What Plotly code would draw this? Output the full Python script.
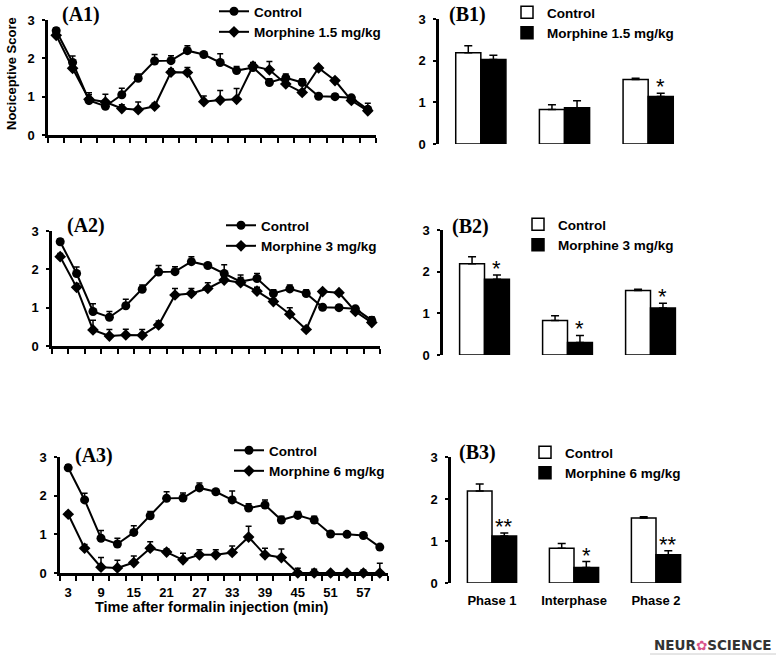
import plotly.graph_objects as go

W, H = 778, 662
SANS = "Liberation Sans"
SERIF = "Liberation Serif"

# ---- time course data (A panels) ----
time_min = [3, 6, 9, 12, 15, 18, 21, 24, 27, 30, 33, 36, 39, 42, 45, 48, 51, 54, 57, 60]
tick_min = [3, 9, 15, 21, 27, 33, 39, 45, 51, 57]

control_line = [2.72, 1.89, 0.90, 0.75, 1.05, 1.48, 1.93, 1.94, 2.20, 2.10,
                1.89, 1.68, 1.76, 1.37, 1.49, 1.37, 1.01, 1.00, 0.97, 0.67]
control_line_err = [0.08, 0.17, 0.20, 0.15, 0.17, 0.11, 0.17, 0.13, 0.13, 0.06,
                    0.23, 0.11, 0.13, 0.10, 0.10, 0.10, 0.06, 0.07, 0.06, 0.06]

morph15_line = [2.60, 1.74, 0.93, 0.86, 0.69, 0.66, 0.75, 1.64, 1.63, 0.87,
                0.91, 0.93, 1.80, 1.70, 1.33, 1.11, 1.75, 1.42, 0.90, 0.63]
morph15_line_err = [0.10, 0.12, 0.12, 0.20, 0.10, 0.20, 0.08, 0.08, 0.13, 0.15,
                    0.25, 0.28, 0.08, 0.22, 0.08, 0.06, 0.05, 0.05, 0.06, 0.20]

morph3_line = [2.33, 1.53, 0.42, 0.26, 0.29, 0.28, 0.55, 1.33, 1.37, 1.50,
               1.72, 1.65, 1.43, 1.16, 0.83, 0.43, 1.42, 1.39, 0.90, 0.61]
morph3_line_err = [0.08, 0.10, 0.25, 0.17, 0.15, 0.15, 0.10, 0.17, 0.13, 0.15,
                   0.08, 0.20, 0.10, 0.07, 0.17, 0.08, 0.05, 0.05, 0.05, 0.15]

morph6_line = [1.52, 0.64, 0.15, 0.13, 0.27, 0.64, 0.54, 0.34, 0.47, 0.47,
               0.53, 0.93, 0.47, 0.40, 0.00, 0.00, 0.00, 0.00, 0.00, 0.00]
morph6_line_err = [0.05, 0.10, 0.25, 0.20, 0.17, 0.17, 0.08, 0.17, 0.13, 0.13,
                   0.17, 0.28, 0.17, 0.22, 0.12, 0.10, 0.03, 0.03, 0.08, 0.25]

# ---- phase data (B panels) ----
phases = ["Phase 1", "Interphase", "Phase 2"]
control_bar = [2.19, 0.83, 1.55]
control_bar_err = [0.17, 0.11, 0.03]
morph15_bar = [2.03, 0.87, 1.14]
morph15_bar_err = [0.10, 0.17, 0.08]
morph3_bar = [1.82, 0.30, 1.13]
morph3_bar_err = [0.10, 0.17, 0.11]
morph6_bar = [1.12, 0.37, 0.67]
morph6_bar_err = [0.07, 0.14, 0.10]
stars15 = ["", "", "*"]
stars3 = ["*", "*", "*"]
stars6 = ["**", "*", "**"]

doses = ["1.5", "3", "6"]


def px_x(p):
    return p / W


def px_y(p):
    return 1 - p / H


fig = go.Figure()

# panel boxes in pixels: (left, right, top, bottom)
a_boxes = [(48, 376, 20, 135), (52, 380, 231, 346), (60, 388, 457, 573)]
b_boxes = [(439, 690, 19, 144), (443, 692, 230, 355), (451, 697, 457, 583)]
# legend top-left corners in pixels
a_legends = [(214, -4), (221, 210), (229, 435)]
b_legends = [(507, -3), (518, 209), (525, 437)]

lines = [(morph15_line, morph15_line_err), (morph3_line, morph3_line_err), (morph6_line, morph6_line_err)]
bars = [(morph15_bar, morph15_bar_err, stars15), (morph3_bar, morph3_bar_err, stars3),
        (morph6_bar, morph6_bar_err, stars6)]

zeros20 = [0] * len(time_min)
zeros3 = [0] * len(phases)

leg_font = dict(family=SANS, size=13.5, color="black", weight="bold")
tick_font = dict(family=SANS, size=13, color="black", weight="bold")

annotations = []

for i in range(3):
    ax_a = 2 * i + 1
    ax_b = 2 * i + 2
    xa = "x" if ax_a == 1 else "x%d" % ax_a
    ya = "y" if ax_a == 1 else "y%d" % ax_a
    xb, yb = "x%d" % ax_b, "y%d" % ax_b
    leg_a = "legend" if ax_a == 1 else "legend%d" % ax_a
    leg_b = "legend%d" % ax_b

    m_vals, m_err = lines[i]
    fig.add_trace(go.Scatter(
        x=time_min, y=control_line, name="Control", mode="lines+markers",
        line=dict(color="black", width=2), marker=dict(symbol="circle", size=9, color="black"),
        error_y=dict(type="data", symmetric=False, array=control_line_err, arrayminus=zeros20,
                     color="black", thickness=1.5, width=3),
        xaxis=xa, yaxis=ya, legend=leg_a, cliponaxis=False))
    fig.add_trace(go.Scatter(
        x=time_min, y=m_vals, name="Morphine %s mg/kg" % doses[i], mode="lines+markers",
        line=dict(color="black", width=2), marker=dict(symbol="diamond", size=9, color="black"),
        error_y=dict(type="data", symmetric=False, array=m_err, arrayminus=zeros20,
                     color="black", thickness=1.5, width=3),
        xaxis=xa, yaxis=ya, legend=leg_a, cliponaxis=False))

    b_vals, b_err, b_stars = bars[i]
    fig.add_trace(go.Bar(
        x=phases, y=control_bar, name="Control",
        marker=dict(color="white", line=dict(color="black", width=1.5)),
        error_y=dict(type="data", symmetric=False, array=control_bar_err, arrayminus=zeros3,
                     color="black", thickness=1.5, width=4),
        xaxis=xb, yaxis=yb, legend=leg_b))
    fig.add_trace(go.Bar(
        x=phases, y=b_vals, name="Morphine %s mg/kg" % doses[i],
        marker=dict(color="black", line=dict(color="black", width=1.5)),
        error_y=dict(type="data", symmetric=False, array=b_err, arrayminus=zeros3,
                     color="black", thickness=1.5, width=4),
        xaxis=xb, yaxis=yb, legend=leg_b))

    for j, s in enumerate(b_stars):
        if s:
            annotations.append(dict(
                x=j + 0.15, y=b_vals[j] + b_err[j], xref=xb, yref=yb, text=s,
                showarrow=False, xanchor="center", yanchor="bottom", yshift=-8,
                font=dict(family=SANS, size=22, color="black")))

    l, r, t, b = a_boxes[i]
    last = i == 2
    fig.update_layout(**{
        ("xaxis" if ax_a == 1 else "xaxis%d" % ax_a): dict(
            domain=[px_x(l), px_x(r)], anchor=ya, range=[1.5, 61.5], automargin=False,
            tickmode="array", tickvals=tick_min, ticks="", showticklabels=last,
            tickfont=tick_font, ticklabelstandoff=6,
            showline=True, linecolor="black", linewidth=2.5, showgrid=False, zeroline=False,
            minor=dict(tick0=1.5, dtick=3, ticks="outside", ticklen=5, tickwidth=1.5,
                       tickcolor="black", showgrid=False)),
        ("yaxis" if ax_a == 1 else "yaxis%d" % ax_a): dict(
            domain=[px_y(b), px_y(t)], anchor=xa, range=[0, 3], automargin=False,
            tickvals=[0, 1, 2, 3], ticks="outside", ticklen=3, tickwidth=2, tickcolor="black",
            tickfont=tick_font, ticklabelstandoff=5,
            showline=True, linecolor="black", linewidth=2.5, showgrid=False, zeroline=False),
    })

    l, r, t, b = b_boxes[i]
    fig.update_layout(**{
        "xaxis%d" % ax_b: dict(
            domain=[px_x(l), px_x(r)], anchor=yb, range=[-0.5, 2.5], automargin=False,
            type="category", categoryorder="array", categoryarray=phases,
            ticks="", showticklabels=last, tickfont=tick_font, ticklabelstandoff=8,
            showline=False, showgrid=False, zeroline=False),
        "yaxis%d" % ax_b: dict(
            domain=[px_y(b), px_y(t)], anchor=xb, range=[0, 3], automargin=False,
            tickvals=[0, 1, 2, 3], ticks="outside", ticklen=3, tickwidth=2, tickcolor="black",
            tickfont=tick_font, ticklabelstandoff=5,
            showline=True, linecolor="black", linewidth=2.5, showgrid=False, zeroline=False),
    })

    lx, ly = a_legends[i]
    fig.update_layout(**{leg_a: dict(x=px_x(lx), y=px_y(ly), xanchor="left", yanchor="top",
                                     bgcolor="rgba(0,0,0,0)", font=leg_font, itemwidth=30,
                                     tracegroupgap=0)})
    lx, ly = b_legends[i]
    fig.update_layout(**{leg_b: dict(x=px_x(lx), y=px_y(ly), xanchor="left", yanchor="top",
                                     bgcolor="rgba(0,0,0,0)", font=leg_font, itemwidth=30,
                                     tracegroupgap=0)})

# panel letters
panel_labels = [("(A1)", 60, 14), ("(A2)", 65, 225), ("(A3)", 73, 455),
                ("(B1)", 447, 14), ("(B2)", 450, 227), ("(B3)", 457, 452)]
for txt, x, y in panel_labels:
    annotations.append(dict(x=px_x(x), y=px_y(y), xref="paper", yref="paper", text=txt,
                            showarrow=False, xanchor="left", yanchor="middle",
                            font=dict(family=SERIF, size=20, color="black", weight="bold")))

annotations.append(dict(x=px_x(12), y=px_y(74), xref="paper", yref="paper",
                        text="Nociceptive Score", textangle=-90, showarrow=False,
                        xanchor="center", yanchor="middle",
                        font=dict(family=SANS, size=13, color="black", weight="bold")))
annotations.append(dict(x=px_x(212), y=px_y(607), xref="paper", yref="paper",
                        text="Time after formalin injection (min)", showarrow=False,
                        xanchor="center", yanchor="middle",
                        font=dict(family=SANS, size=14.5, color="black", weight="bold")))
annotations.append(dict(x=px_x(713), y=px_y(645), xref="paper", yref="paper",
                        text="NEUR<span style='color:#d9538a'>✿</span>SCIENCE", showarrow=False,
                        xanchor="center", yanchor="middle",
                        font=dict(family="DejaVu Sans", size=13.5, color="#333333", weight="bold")))

fig.update_layout(
    width=W, height=H, margin=dict(l=0, r=0, t=0, b=0, autoexpand=False),
    paper_bgcolor="white", plot_bgcolor="white",
    barmode="group", bargap=0.4, bargroupgap=0,
    annotations=annotations,
    shapes=[dict(type="line", xref="paper", yref="paper", x0=px_x(650), x1=px_x(776),
                 y0=px_y(654), y1=px_y(654), line=dict(color="#cccccc", width=1))],
)

# drop the default page margin so the figure sits at the window's corner
fig.write_html("out.html", config={"displayModeBar": False},
               post_script="document.body.style.margin = '0px';")
